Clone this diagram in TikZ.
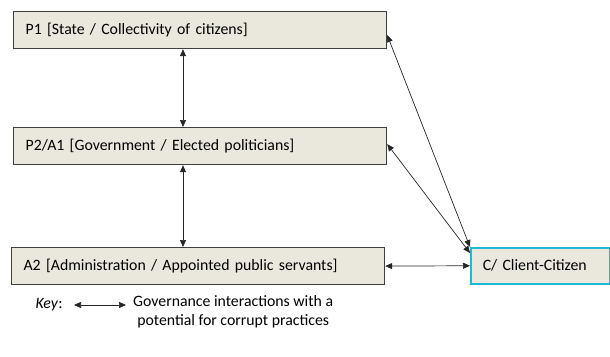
\documentclass[tikz,border=0pt]{standalone}
\usepackage{fontspec}
\setmainfont{Carlito}
\usetikzlibrary{arrows.meta}
\definecolor{boxfill}{RGB}{234,231,220}
\definecolor{boxline}{RGB}{64,64,64}
\definecolor{cyanline}{RGB}{30,185,215}
\tikzset{txt/.style={font=\fontsize{15.8}{19}\selectfont}}
\begin{document}
\begin{tikzpicture}[x=1pt,y=-1pt,
  actor/.style={draw=boxline,line width=1.2pt,fill=boxfill,minimum height=37pt,
    inner xsep=12pt,anchor=north west,text width=#1,align=left,txt},
  link/.style={{Triangle[length=7pt,width=6pt]}-{Triangle[length=7pt,width=6pt]},line width=0.7pt,color=black!85}]
\useasboundingbox (0,0) rectangle (610,356);
\node[actor=349pt] (p1) at (13,11) {P1 [State / Collectivity of citizens]};
\node[actor=349pt] (p2) at (13,127) {P2/A1 [Government / Elected politicians]};
\node[actor=349pt] (a2) at (11,247) {A2 [Administration / Appointed public servants]};
\node[actor=115pt,draw=cyanline,line width=1.5pt,minimum height=36pt] (c) at (470,247) {C/ Client-Citizen};
\draw[link] (p1.south -| 183,0) -- (p2.north -| 183,0);
\draw[link] (p2.south -| 183,0) -- (a2.north -| 183,0);
\draw[link] (p1.east) ++(0,5) coordinate (p1e) (p1e) -- (c.north west);
\draw[link] (p2.east) ++(0,-2) coordinate (p2e) (p2e) -- ([yshift=-6pt]c.north west);
\draw[link] (a2.east) -- (c.west);
\node[txt,anchor=west] (key) at (32,305) {\textit{Key}:};
\coordinate (ka) at (74,305);
\coordinate (kb) at (126,305);
\draw[link] (ka) -- (kb);
\node[txt,anchor=north west,align=center,inner sep=0pt] (kt) at (133,295) {Governance interactions with a\\potential for corrupt practices};
\end{tikzpicture}
\end{document}
